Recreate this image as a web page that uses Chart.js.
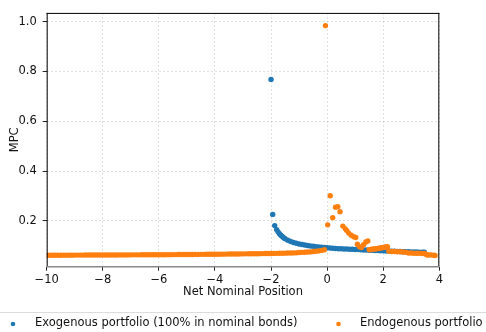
<!DOCTYPE html>
<html><head><meta charset="utf-8">
<script src="https://cdn.jsdelivr.net/npm/chart.js@4/dist/chart.umd.min.js"></script>
<style>html,body{margin:0;padding:0;background:#fff;}#wrap{width:486px;height:332px;position:relative;}</style>
</head><body><div id="wrap"><canvas id="c" width="486" height="332"></canvas></div>
<script>
const xTicks = [-10, -8, -6, -4, -2, 0, 2, 4];
const yTicks = [0.2, 0.4, 0.6, 0.8, 1.0];
const xTitle = 'Net Nominal Position';
const yTitle = 'MPC';
const seriesLabels = ['Exogenous portfolio (100% in nominal bonds)', 'Endogenous portfolio'];

// Exogenous portfolio (blue)
const exoX = [-2.0, -1.94, -1.87, -1.8, -1.75, -1.7, -1.65, -1.6, -1.55, -1.5, -1.4, -1.3, -1.2, -1.1, -1.0, -0.9, -0.8, -0.7, -0.6, -0.5, -0.4, -0.3, -0.2, -0.1, 0.0, 0.1, 0.2, 0.3, 0.4, 0.5, 0.6, 0.7, 0.8, 0.9, 1.0, 1.1, 1.2, 1.3, 1.4, 1.5, 1.6, 1.7, 1.8, 1.9, 2.0, 2.1, 2.2, 2.3, 2.4, 2.5, 2.6, 2.7, 2.8, 2.9, 3.0, 3.1, 3.2, 3.3, 3.4, 3.47];
const exoY = [0.768, 0.226, 0.181, 0.165, 0.156, 0.148, 0.142, 0.137, 0.132, 0.128, 0.122, 0.117, 0.113, 0.110, 0.107, 0.105, 0.103, 0.101, 0.099, 0.098, 0.096, 0.095, 0.094, 0.093, 0.092, 0.091, 0.090, 0.089, 0.088, 0.088, 0.087, 0.087, 0.086, 0.086, 0.085, 0.085, 0.084, 0.083, 0.083, 0.082, 0.082, 0.081, 0.081, 0.080, 0.080, 0.079, 0.079, 0.078, 0.078, 0.077, 0.077, 0.076, 0.076, 0.076, 0.075, 0.075, 0.075, 0.074, 0.074, 0.074];

// Endogenous portfolio (orange): dense band for negative positions
const endoBandX = [-10.0, -9.9, -9.8, -9.7, -9.6, -9.5, -9.4, -9.3, -9.2, -9.1, -9.0, -8.9, -8.8, -8.7, -8.6, -8.5, -8.4, -8.3, -8.2, -8.1,
  -8.0, -7.9, -7.8, -7.7, -7.6, -7.5, -7.4, -7.3, -7.2, -7.1, -7.0, -6.9, -6.8, -6.7, -6.6, -6.5, -6.4, -6.3, -6.2, -6.1,
  -6.0, -5.9, -5.8, -5.7, -5.6, -5.5, -5.4, -5.3, -5.2, -5.1, -5.0, -4.9, -4.8, -4.7, -4.6, -4.5, -4.4, -4.3, -4.2, -4.1,
  -4.0, -3.9, -3.8, -3.7, -3.6, -3.5, -3.4, -3.3, -3.2, -3.1, -3.0, -2.9, -2.8, -2.7, -2.6, -2.5, -2.4, -2.3, -2.2, -2.1,
  -2.0, -1.9, -1.8, -1.7, -1.6, -1.5, -1.4, -1.3, -1.2, -1.1, -1.0, -0.9, -0.8, -0.7, -0.6, -0.5, -0.4, -0.3, -0.2, -0.1];
const endoBandY = [0.0620, 0.0620, 0.0621, 0.0621, 0.0622, 0.0622, 0.0623, 0.0623, 0.0624, 0.0624, 0.0625, 0.0625, 0.0626, 0.0626, 0.0627, 0.0627, 0.0628, 0.0628, 0.0629, 0.0629,
  0.0630, 0.0630, 0.0631, 0.0631, 0.0632, 0.0632, 0.0633, 0.0633, 0.0634, 0.0634, 0.0635, 0.0635, 0.0636, 0.0636, 0.0637, 0.0637, 0.0638, 0.0638, 0.0639, 0.0639,
  0.0640, 0.0641, 0.0642, 0.0643, 0.0644, 0.0645, 0.0646, 0.0647, 0.0648, 0.0649, 0.0650, 0.0651, 0.0652, 0.0653, 0.0654, 0.0655, 0.0656, 0.0657, 0.0658, 0.0659,
  0.0660, 0.0661, 0.0663, 0.0664, 0.0666, 0.0667, 0.0669, 0.0670, 0.0672, 0.0673, 0.0675, 0.0676, 0.0678, 0.0679, 0.0681, 0.0682, 0.0684, 0.0685, 0.0687, 0.0688,
  0.0690, 0.0693, 0.0696, 0.0699, 0.0702, 0.0705, 0.0708, 0.0711, 0.0714, 0.0717, 0.0730, 0.0736, 0.0742, 0.0748, 0.0755, 0.0768, 0.0780, 0.0795, 0.0815, 0.0840];
// scattered points near zero
const endoSpikeX = [-0.06, 0.02, 0.11, 0.20, 0.30, 0.38, 0.46, 0.56, 0.65, 0.70, 0.77, 0.86, 0.95, 1.02, 1.08, 1.15, 1.22, 1.30, 1.38, 1.45];
const endoSpikeY = [0.984, 0.184, 0.301, 0.213, 0.255, 0.257, 0.237, 0.179, 0.168, 0.161, 0.151, 0.142, 0.136, 0.133, 0.106, 0.096, 0.093, 0.104, 0.115, 0.119];
// step segments for positive positions
const endoRightX = [1.50, 1.55, 1.60, 1.65, 1.70, 1.75, 1.80, 1.85, 1.90, 1.95, 2.00, 2.05, 2.10, 2.15,
  2.20, 2.30, 2.40, 2.50, 2.60, 2.70, 2.80, 2.90, 3.00, 3.10, 3.20, 3.30, 3.40, 3.48, 3.55, 3.60, 3.70, 3.80, 3.85];
const endoRightY = [0.084, 0.085, 0.086, 0.087, 0.087, 0.088, 0.089, 0.090, 0.091, 0.092, 0.093, 0.094, 0.095, 0.096,
  0.078, 0.077, 0.077, 0.076, 0.076, 0.075, 0.074, 0.071, 0.071, 0.070, 0.070, 0.070, 0.069, 0.069, 0.064, 0.063, 0.063, 0.062, 0.061];

const toPts = (xs, ys) => xs.map((x, i) => ({x: x, y: ys[i]}));
const exoPts = toPts(exoX, exoY);
const endoPts = toPts(endoBandX, endoBandY).concat(toPts(endoSpikeX, endoSpikeY), toPts(endoRightX, endoRightY));

const BLUE = '#1f77b4', ORANGE = '#ff7f0e';
const FONT = 'DejaVu Sans';
const FS = 11.5;

const framePlugin = {
  id: 'frame',
  afterDraw(chart) {
    const {ctx, chartArea: a} = chart;
    ctx.save();
    ctx.lineWidth = 1;
    ctx.strokeStyle = '#000';
    ctx.beginPath();
    ctx.moveTo(a.left + 0.5, a.top); ctx.lineTo(a.left + 0.5, a.bottom);
    ctx.moveTo(a.right - 0.5, a.top); ctx.lineTo(a.right - 0.5, a.bottom);
    ctx.moveTo(a.left, a.top + 0.5); ctx.lineTo(a.right, a.top + 0.5);
    ctx.stroke();
    ctx.strokeStyle = '#888';
    ctx.lineWidth = 1.6;
    ctx.beginPath();
    ctx.moveTo(a.left, a.bottom); ctx.lineTo(a.right, a.bottom);
    ctx.stroke();
    // legend (below the axis title, wider than the figure)
    const ly = 323.5;
    ctx.strokeStyle = '#dcdcdc';
    ctx.lineWidth = 1;
    ctx.beginPath();
    ctx.moveTo(0, 312.5); ctx.lineTo(chart.width, 312.5);
    ctx.stroke();
    const items = [{mx: 13, tx: 35}, {mx: 338.5, tx: 360}];
    ctx.font = FS + 'px "' + FONT + '"';
    ctx.textBaseline = 'middle';
    ctx.textAlign = 'left';
    chart.data.datasets.forEach((ds, i) => {
      const it = items[i];
      ctx.fillStyle = ds.backgroundColor;
      ctx.beginPath();
      ctx.arc(it.mx, ly + 0.5, 2.3, 0, Math.PI * 2);
      ctx.fill();
      ctx.fillStyle = '#111';
      ctx.fillText(ds.label, it.tx, ly);
    });
    ctx.restore();
  }
};

const minus = v => (v < 0 ? '\u2212' + Math.abs(v) : String(v));

new Chart(document.getElementById('c'), {
  type: 'scatter',
  data: {
    datasets: [
      {label: seriesLabels[0], data: exoPts, backgroundColor: BLUE, borderWidth: 0, pointRadius: 2.7, order: 1},
      {label: seriesLabels[1], data: endoPts, backgroundColor: ORANGE, borderWidth: 0, pointRadius: 2.7, order: 0}
    ]
  },
  options: {
    responsive: false,
    animation: false,
    events: [],
    layout: {padding: {left: 0, right: 46.7, top: 6, bottom: 33.3}},
    plugins: {legend: {display: false}, tooltip: {enabled: false}},
    scales: {
      x: {
        type: 'linear', min: -10, max: 4,
        afterBuildTicks: s => { s.ticks = xTicks.map(v => ({value: v})); },
        afterFit: s => { s.height = 32; },
        ticks: {color: '#111', font: {family: FONT, size: FS}, padding: 2, maxRotation: 0, callback: v => minus(v)},
        grid: {color: 'rgba(0,0,0,0.13)', tickColor: '#222', tickLength: 4, lineWidth: 1},
        border: {display: false, dash: [2, 2]},
        title: {display: true, text: xTitle, color: '#111', font: {family: FONT, size: FS}, padding: {top: 0, bottom: 0}}
      },
      y: {
        type: 'linear', min: 0.016, max: 1.035,
        afterBuildTicks: s => { s.ticks = yTicks.map(v => ({value: v})); },
        afterFit: s => { s.width = 46.7; },
        ticks: {color: '#111', font: {family: FONT, size: FS}, padding: 6, callback: v => v.toFixed(1)},
        grid: {color: 'rgba(0,0,0,0.13)', tickColor: '#222', tickLength: 4, lineWidth: 1},
        border: {display: false, dash: [2, 2]},
        title: {display: true, text: yTitle, color: '#111', font: {family: FONT, size: FS}, padding: {top: 8, bottom: 0}}
      }
    }
  },
  plugins: [framePlugin]
});
</script></body></html>
